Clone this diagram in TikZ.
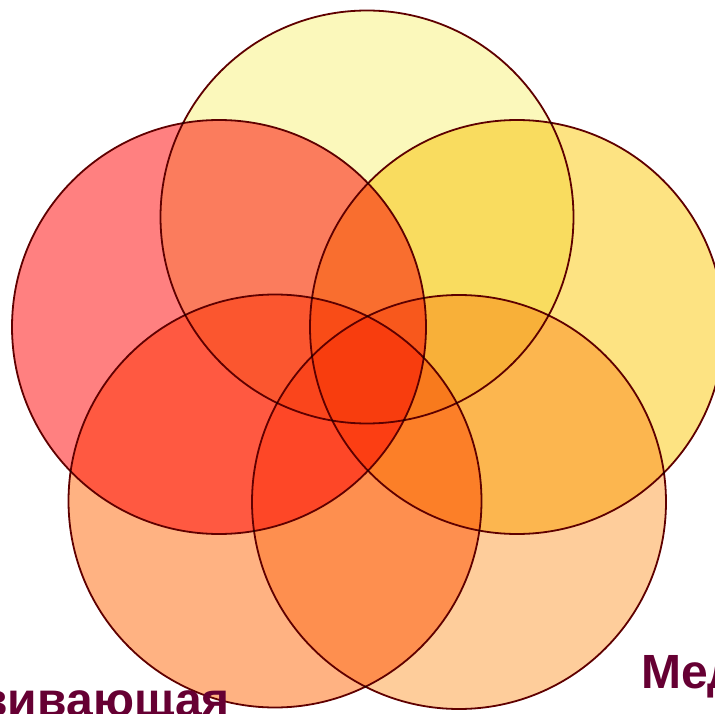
\documentclass[tikz,border=0pt]{standalone}
\usepackage{fontspec}
\setmainfont{Liberation Sans}
\definecolor{ctop}{RGB}{251,248,187}
\definecolor{cright}{RGB}{253,227,130}
\definecolor{cleft}{RGB}{255,128,128}
\definecolor{cbr}{RGB}{254,205,155}
\definecolor{cbl}{RGB}{255,178,130}
\definecolor{edge}{RGB}{96,0,0}
\definecolor{txt}{RGB}{102,0,51}
\begin{document}
\begin{tikzpicture}[x=1pt,y=-1pt,
  ring/.style={draw=edge,line width=1.8pt,blend mode=multiply},
  label/.style={inner sep=0pt,text=txt,font=\fontsize{48}{56}\selectfont\bfseries}]
\useasboundingbox (0,0) rectangle (715,714);
\clip (0,0) rectangle (715,714);
\draw[ring,fill=ctop] (367,217) circle (206.5);
\draw[ring,fill=cright] (517,327) circle (207);
\draw[ring,fill=cleft] (219,327) circle (207);
\draw[ring,fill=cbr] (459,502) circle (207);
\draw[ring,fill=cbl] (275,501) circle (206.5);
\node[label,anchor=base east] (dev) at (230,716) {Развивающая};
\node[label,anchor=base west] (med) at (641,688) {Медицинская};
\end{tikzpicture}
\end{document}
